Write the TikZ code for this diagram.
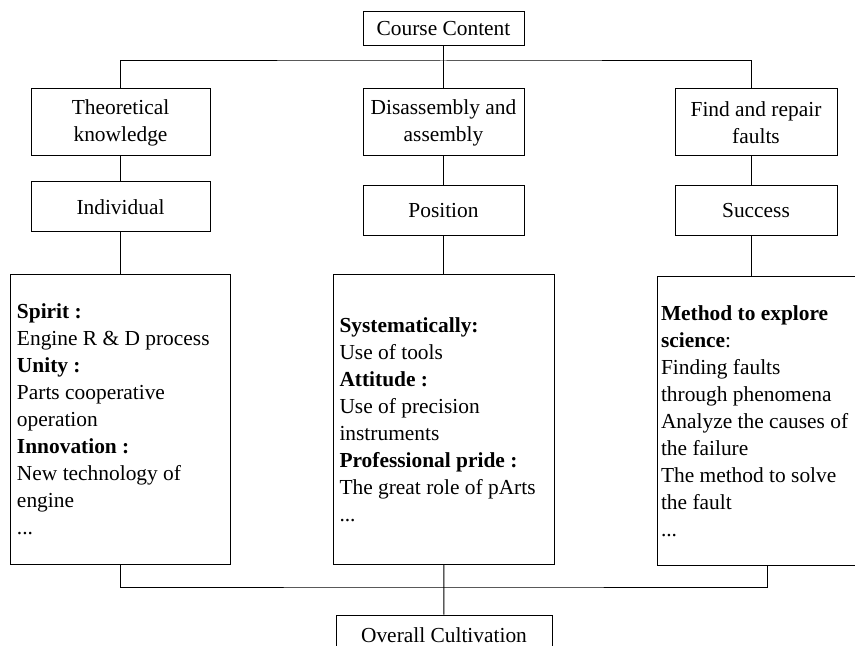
\documentclass[tikz,border=0pt]{standalone}
\usepackage{fontspec}
\setmainfont{Liberation Serif}
\begin{document}
\begin{tikzpicture}[x=0.5pt,y=-0.5pt,line width=0.5pt,
  every node/.style={font=\fontsize{10.7}{13.5}\selectfont},
  headbox/.style={draw,inner sep=0pt,align=center,minimum height=33.5pt},
  valuebox/.style={draw,inner sep=0pt,minimum height=25pt},
  listbox/.style={draw,inner xsep=3.25pt,inner ysep=0pt,align=flush left,minimum height=144.5pt}]
\useasboundingbox (0,0) rectangle (855,646);

\node[draw,inner sep=0pt,minimum width=80.5pt,minimum height=17pt] (course) at (443.5,29) {Course Content};

\node[headbox,minimum width=89.5pt] (theory) at (120.5,122.5) {Theoretical\\knowledge};
\node[headbox,minimum width=80.5pt] (disasm) at (443.5,122.5) {Disassembly and\\assembly};
\node[headbox,minimum width=81pt] (repair) at (756,122.5) {Find and repair\\faults};

\node[valuebox,minimum width=89.5pt] (indiv) at (120.5,207) {Individual};
\node[valuebox,minimum width=80.5pt] (position) at (443.5,211) {Position};
\node[valuebox,minimum width=81pt] (success) at (756,211) {Success};

\node[listbox,text width=103.5pt] (spirit) at (120.5,419.5) {\textbf{Spirit :}\\Engine R \& D process\\\textbf{Unity :}\\Parts cooperative\\operation\\\textbf{Innovation :}\\New technology of\\engine\\...};
\node[listbox,text width=104pt] (attitude) at (443.5,419.5) {\textbf{Systematically:}\\Use of tools\\\textbf{Attitude :}\\Use of precision\\instruments\\\textbf{Professional pride :}\\The great role of pArts\\...};
\node[listbox,inner xsep=2pt,text width=95pt] (method) at (756,421) {\textbf{Method to explore}\\\textbf{science}:\\Finding faults\\through phenomena\\Analyze the causes of\\the failure\\The method to solve\\the fault\\...};

\node[draw,inner sep=0pt,minimum width=108pt,minimum height=20pt] (overall) at (444,635) {Overall Cultivation};

\coordinate (topbus) at (443.5,61);
\coordinate (lowbus) at (443.5,587);

\draw (course) -- (topbus);
\draw (theory.north) |- (topbus) -| ([xshift=-2.5pt]repair.north);
\draw (topbus) -- (disasm.north);

\draw (theory) -- (indiv);
\draw (disasm) -- (position);
\draw ([xshift=-2.5pt]repair.south) -- ([xshift=-2.5pt]success.north);

\draw (indiv) -- (spirit);
\draw (position) -- (attitude);
\draw ([xshift=-2.5pt]success.south) -- ([xshift=-2.5pt]method.north);

\draw (spirit.south) |- (lowbus) -| ([xshift=5.5pt]method.south);
\draw (attitude) -- (overall);
\end{tikzpicture}
\end{document}
